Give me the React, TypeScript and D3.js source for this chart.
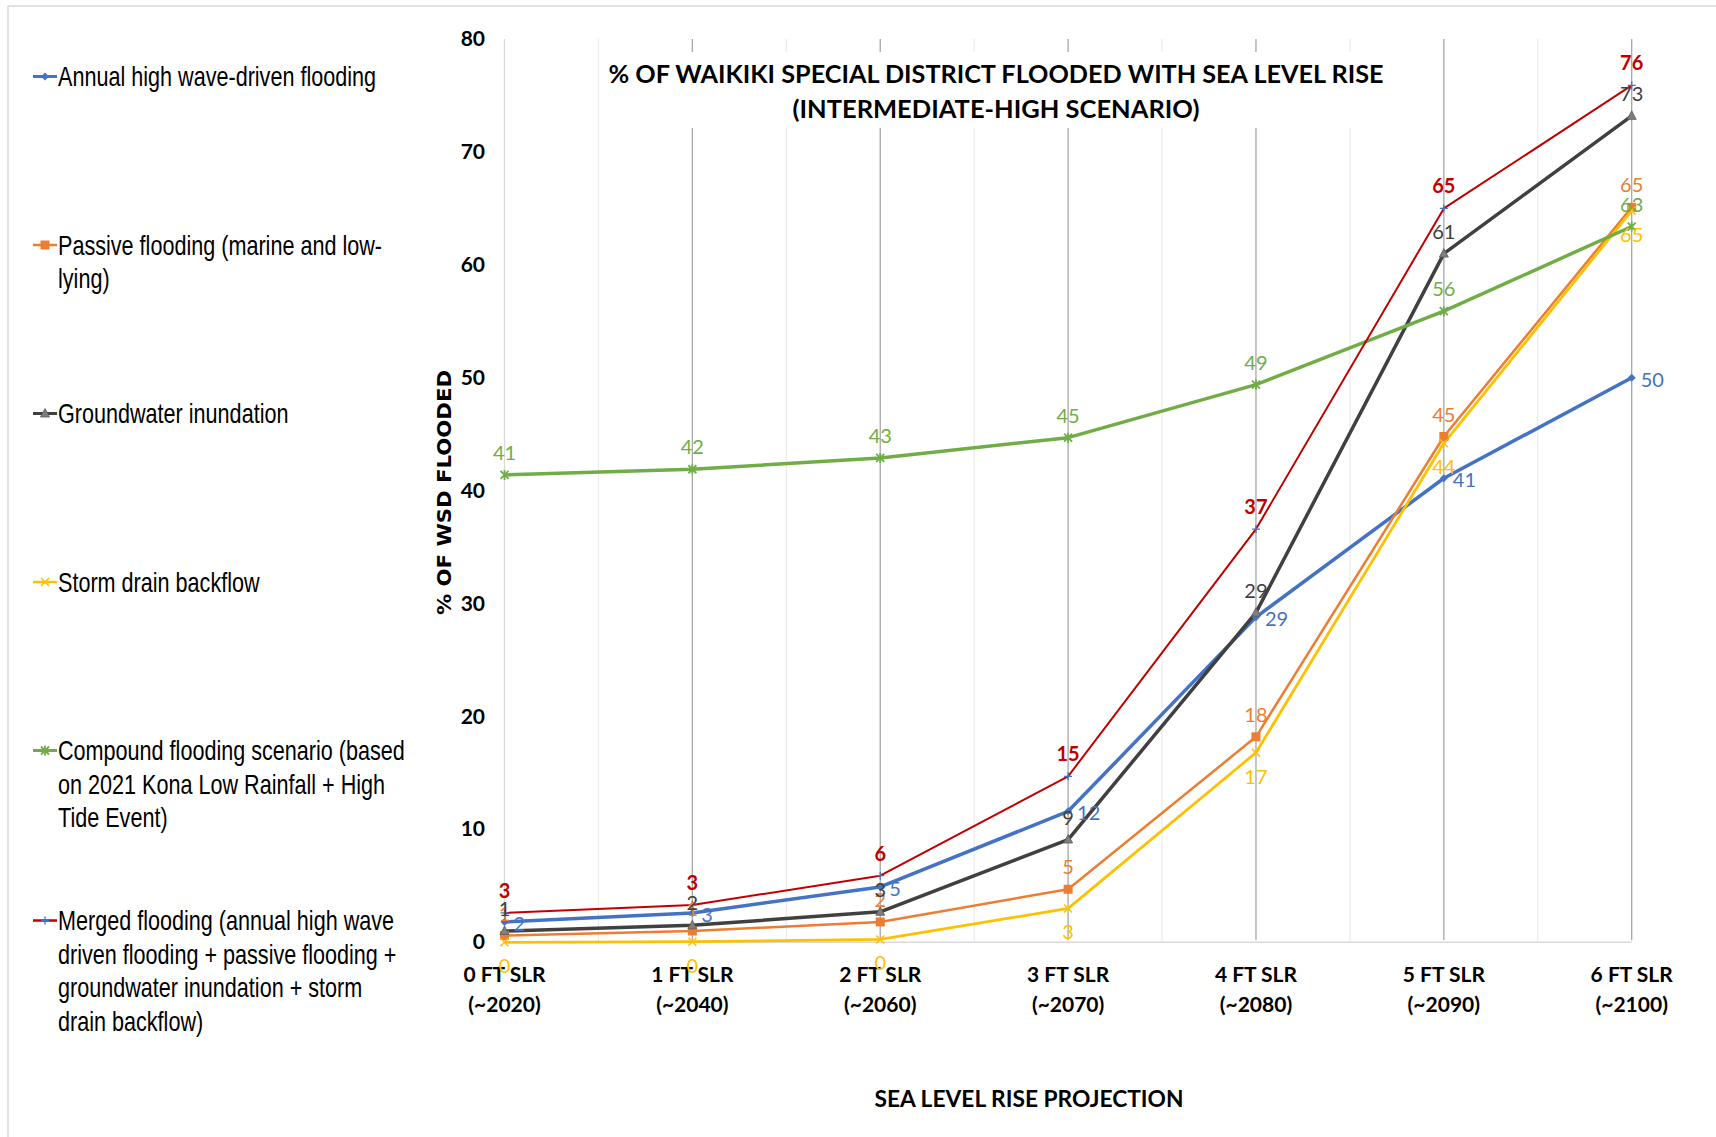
import React from "react";
import * as d3 from "d3";

const categories = ["0 FT SLR|(~2020)", "1 FT SLR|(~2040)", "2 FT SLR|(~2060)", "3 FT SLR|(~2070)", "4 FT SLR|(~2080)", "5 FT SLR|(~2090)", "6 FT SLR|(~2100)"];
const annualWave = [1.8, 2.6, 4.9, 11.6, 28.8, 41.1, 50.0];
const passive = [0.6, 1.0, 1.8, 4.7, 18.2, 44.8, 65.1];
const groundwater = [1.0, 1.5, 2.7, 9.1, 29.2, 61.0, 73.2];
const stormDrain = [0.0, 0.05, 0.25, 3.0, 16.8, 44.2, 64.8];
const compound = [41.4, 41.9, 42.9, 44.7, 49.4, 55.9, 63.4];
const merged = [2.6, 3.3, 5.9, 14.7, 36.6, 65.0, 75.9];
const yTicks = [0, 10, 20, 30, 40, 50, 60, 70, 80];

const legendLines = [
  ["Annual high wave-driven flooding"],
  ["Passive flooding (marine and low-", "lying)"],
  ["Groundwater inundation"],
  ["Storm drain backflow"],
  ["Compound flooding scenario (based", "on 2021 Kona Low Rainfall + High", "Tide Event)"],
  ["Merged flooding (annual high wave", "driven flooding + passive flooding +", "groundwater inundation + storm", "drain backflow)"],
];

type Series = {
  name: string;
  values: number[];
  color: string;
  width: number;
  marker: string;
  labelPos: "above" | "below" | "right";
  bold?: boolean;
  markerColor?: string;
};

const series: Series[] = [
  { name: "annual", values: annualWave, color: "#4472C4", width: 3.5, marker: "diamond", labelPos: "right" },
  { name: "passive", values: passive, color: "#ED7D31", width: 2.5, marker: "square", labelPos: "above" },
  { name: "ground", values: groundwater, color: "#404040", width: 3.5, marker: "triangle", labelPos: "above", markerColor: "#7F7F7F" },
  { name: "storm", values: stormDrain, color: "#FFC000", width: 2.75, marker: "x", labelPos: "below" },
  { name: "compound", values: compound, color: "#70AD47", width: 3.5, marker: "star", labelPos: "above" },
  { name: "merged", values: merged, color: "#C00000", width: 2, marker: "plus", labelPos: "above", bold: true, markerColor: "#4472C4" },
];

const legendY = [86, 254.5, 423, 591.5, 760, 930];

function Marker({ kind, x, y, color, mc }: { kind: string; x: number; y: number; color: string; mc?: string }) {
  const c = mc || color;
  switch (kind) {
    case "diamond":
      return <path d={`M${x},${y - 4}L${x + 4},${y}L${x},${y + 4}L${x - 4},${y}Z`} fill={c} />;
    case "square":
      return <rect x={x - 4.5} y={y - 4.5} width={9} height={9} fill={c} />;
    case "triangle":
      return <path d={`M${x},${y - 5}L${x + 4.5},${y + 3.5}L${x - 4.5},${y + 3.5}Z`} fill={c} stroke="#595959" strokeWidth={0.8} />;
    case "x":
      return <path d={`M${x - 4},${y - 4}L${x + 4},${y + 4}M${x - 4},${y + 4}L${x + 4},${y - 4}`} stroke={c} strokeWidth={1.5} />;
    case "star":
      return (
        <path
          d={`M${x - 4},${y - 4}L${x + 4},${y + 4}M${x - 4},${y + 4}L${x + 4},${y - 4}M${x},${y - 5}L${x},${y + 5}`}
          stroke={c}
          strokeWidth={1.8}
        />
      );
    case "plus":
      return <path d={`M${x - 4},${y}L${x + 4},${y}M${x},${y - 4}L${x},${y + 4}`} stroke={c} strokeWidth={1.3} />;
    default:
      return null;
  }
}

export default function App() {
  const W = 1716;
  const H = 1137;
  const x = d3.scalePoint<string>().domain(categories).range([504.5, 1631.7]);
  const y = d3.scaleLinear().domain([0, 80]).range([942.3, 39.1]);
  const step = x.step();
  const line = d3
    .line<number>()
    .x((_, i) => x(categories[i]) as number)
    .y((v) => y(v));

  const halfLines = d3.range(0, categories.length - 1, 1).map((i) => (x(categories[i]) as number) + step / 2);

  const labelFont = "Lato, 'Open Sans', sans-serif";

  return (
    <svg width={W} height={H} style={{ position: "absolute", left: 0, top: 0, background: "#fff" }}>
      <rect x={8} y={6} width={W + 20} height={H + 20} fill="#fff" stroke="#D9D9D9" strokeWidth={1.5} />

      {/* minor vertical gridlines */}
      {halfLines.map((hx, i) => (
        <line key={"h" + i} x1={hx} x2={hx} y1={y(80)} y2={y(0)} stroke="#EBEBEB" strokeWidth={1.2} />
      ))}
      {categories.map((c, i) => (
        <line
          key={"g" + i}
          x1={x(c) as number}
          x2={x(c) as number}
          y1={y(80)}
          y2={y(0) - (i === 0 ? 0 : 2)}
          stroke={i === 0 ? "#D9D9D9" : "#A6A6A6"}
          strokeWidth={1.3}
        />
      ))}
      <line x1={x(categories[0]) as number} x2={x(categories[6]) as number} y1={y(0)} y2={y(0)} stroke="#D9D9D9" strokeWidth={1.5} />

      {/* title box */}
      <rect x={600} y={52} width={795} height={76} fill="#fff" />
      <text x={996} y={83} textAnchor="middle" fontFamily={labelFont} fontWeight="bold" fontSize={24} textLength={775} lengthAdjust="spacingAndGlyphs" fill="#000">
        % OF WAIKIKI SPECIAL DISTRICT FLOODED WITH SEA LEVEL RISE
      </text>
      <text x={996} y={118} textAnchor="middle" fontFamily={labelFont} fontWeight="bold" fontSize={24} textLength={407} lengthAdjust="spacingAndGlyphs" fill="#000">
        (INTERMEDIATE-HIGH SCENARIO)
      </text>

      {/* y ticks */}
      {yTicks.map((t) => (
        <text key={"yt" + t} x={485} y={y(t) + 7} textAnchor="end" fontFamily={labelFont} fontWeight="bold" fontSize={21} fill="#000">
          {t}
        </text>
      ))}
      <text
        transform={`translate(451,492.5) rotate(-90)`}
        textAnchor="middle"
        fontFamily="'DejaVu Sans', sans-serif"
        fontWeight="bold"
        fontSize={20}
        textLength={245}
        lengthAdjust="spacingAndGlyphs"
        fill="#000"
      >
        % OF WSD FLOODED
      </text>

      {/* x labels */}
      {categories.map((c) => {
        const [a, b] = c.split("|");
        return (
          <g key={"xl" + c}>
            <text x={x(c) as number} y={981.5} textAnchor="middle" fontFamily={labelFont} fontWeight="bold" fontSize={21} fill="#000">
              {a}
            </text>
            <text x={x(c) as number} y={1011.5} textAnchor="middle" fontFamily={labelFont} fontWeight="bold" fontSize={21} fill="#000">
              {b}
            </text>
          </g>
        );
      })}
      <text x={1029} y={1107} textAnchor="middle" fontFamily={labelFont} fontWeight="bold" fontSize={22} textLength={309} lengthAdjust="spacingAndGlyphs" fill="#000">
        SEA LEVEL RISE PROJECTION
      </text>

      {/* series lines */}
      {series.map((s) => (
        <path key={"l" + s.name} d={line(s.values) || ""} fill="none" stroke={s.color} strokeWidth={s.width} strokeLinejoin="round" />
      ))}
      {series.map((s) =>
        s.values.map((v, i) => (
          <Marker key={"m" + s.name + i} kind={s.marker} x={x(categories[i]) as number} y={y(v)} color={s.color} mc={s.markerColor} />
        ))
      )}

      {/* data labels */}
      {series.map((s) =>
        s.values.map((v, i) => {
          const px = x(categories[i]) as number;
          const py = y(v);
          let lx = px;
          let ly = py;
          let anchor: "middle" | "start" = "middle";
          if (s.labelPos === "above") ly = py - 22;
          else if (s.labelPos === "below") ly = py + 24;
          else {
            lx = px + 9;
            ly = py + 2;
            anchor = "start";
          }
          return (
            <text
              key={"dl" + s.name + i}
              x={lx}
              y={ly + 7}
              textAnchor={anchor}
              fontFamily={labelFont}
              fontWeight={s.bold ? "bold" : "normal"}
              fontSize={20}
              fill={s.color}
            >
              {Math.round(v)}
            </text>
          );
        })
      )}

      {/* legend */}
      {series.map((s, k) => (
        <g key={"lg" + s.name}>
          <line x1={33} x2={57} y1={legendY[k] - 9.5} y2={legendY[k] - 9.5} stroke={s.color} strokeWidth={s.width > 3 ? 3 : 2.5} />
          <Marker kind={s.marker} x={45} y={legendY[k] - 9.5} color={s.color} mc={s.markerColor} />
          {legendLines[k].map((t, j) => (
            <text
              key={"lt" + j}
              transform={`translate(58,${legendY[k] + j * 33.5}) scale(0.8,1)`}
              fontFamily="'Liberation Sans', Arial, sans-serif"
              fontSize={27}
              fill="#000"
            >
              {t}
            </text>
          ))}
        </g>
      ))}
    </svg>
  );
}
